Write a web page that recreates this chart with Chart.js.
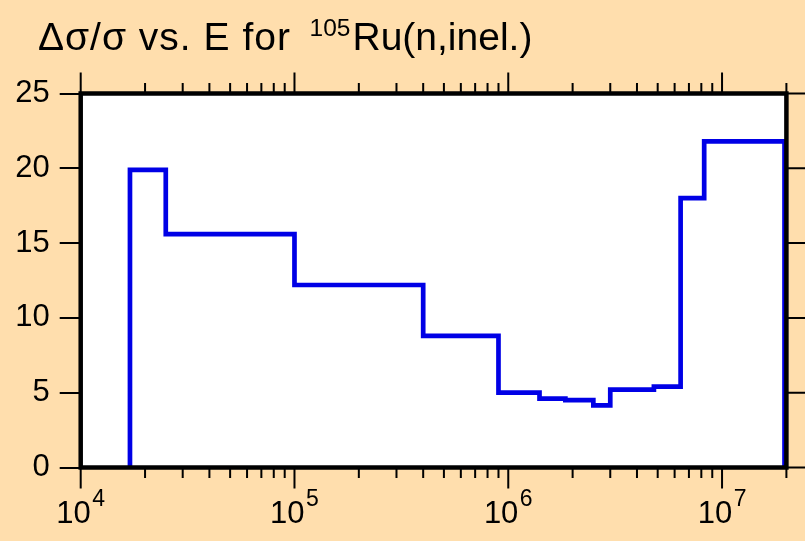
<!DOCTYPE html>
<html>
<head>
<meta charset="utf-8">
<script src="https://cdn.jsdelivr.net/npm/chart.js@4"></script>
<style>
  html, body { margin: 0; padding: 0; background: #ffdead; }
  canvas { display: block; }
</style>
</head>
<body>
<canvas id="c" width="805" height="541"></canvas>
<script>
// ---- data ----
const energyEdges = [1.7e4, 2.5e4, 1e5, 4e5, 9e5, 1.4e6, 1.85e6, 2.5e6, 3e6, 4.8e6, 6.4e6, 8.25e6, 1.96e7]; // eV
const relUncertainty = [19.9, 15.6, 12.2, 8.8, 5.0, 4.6, 4.5, 4.15, 5.2, 5.4, 18.0, 21.8]; // percent
const yTickValues = [0, 5, 10, 15, 20, 25];
const xDecades = [1e4, 1e5, 1e6, 1e7];
const xExponents = ['4', '5', '6', '7'];
const titleMain = 'Δσ/σ vs. E for';
const titleSup = '105';
const titleRest = 'Ru(n,inel.)';

const X_MIN = 1e4, X_MAX = 2e7, Y_MIN = 0, Y_MAX = 25;
const FONT = '"Liberation Sans", Arial, Helvetica, sans-serif';
const BG = '#ffdead';
const LINE = '#0000e6';

// build histogram outline points
const pts = [{x: energyEdges[0], y: 0}];
for (let i = 0; i < relUncertainty.length; i++) {
  pts.push({x: energyEdges[i], y: relUncertainty[i]});
  pts.push({x: energyEdges[i + 1], y: relUncertainty[i]});
}
pts.push({x: energyEdges[energyEdges.length - 1], y: 0});

const decor = {
  id: 'decor',
  beforeDraw(chart) {
    const {ctx, chartArea: a} = chart;
    ctx.save();
    ctx.fillStyle = BG;
    ctx.fillRect(0, 0, chart.width, chart.height);
    ctx.fillStyle = '#ffffff';
    ctx.fillRect(a.left, a.top, a.right - a.left, a.bottom - a.top);
    ctx.restore();
  },
  afterDatasetsDraw(chart) {
    const {ctx, chartArea: a} = chart;
    ctx.save();
    ctx.strokeStyle = '#000';
    ctx.lineWidth = 4.5;
    ctx.strokeRect(a.left, a.top, a.right - a.left, a.bottom - a.top);
    ctx.restore();
  },
  afterDraw(chart) {
    const {ctx, chartArea: a} = chart;
    const xs = chart.scales.x, ys = chart.scales.y;
    ctx.save();
    ctx.strokeStyle = '#000';
    ctx.lineWidth = 2;
    ctx.beginPath();
    xDecades.forEach(d => {
      for (let m = 1; m <= 9; m++) {
        const v = m * d;
        if (v < X_MIN || v > X_MAX) continue;
        const px = xs.getPixelForValue(v);
        const len = m === 1 ? 21 : 10.5;
        ctx.moveTo(px, a.bottom); ctx.lineTo(px, a.bottom + len);
        ctx.moveTo(px, a.top); ctx.lineTo(px, a.top - len);
      }
    });
    yTickValues.forEach(v => {
      const py = ys.getPixelForValue(v);
      ctx.moveTo(a.right, py); ctx.lineTo(a.right + 20, py);
    });
    ctx.stroke();

    // x labels 10^n
    ctx.fillStyle = '#000';
    ctx.textBaseline = 'alphabetic';
    ctx.textAlign = 'left';
    xDecades.forEach((d, i) => {
      const px = xs.getPixelForValue(d);
      ctx.font = '31px ' + FONT;
      const wb = ctx.measureText('10').width;
      ctx.font = '23px ' + FONT;
      const we = ctx.measureText(xExponents[i]).width;
      const x0 = px - (wb + 1.5 + we) / 2;
      ctx.font = '31px ' + FONT;
      ctx.fillText('10', x0, 522.5);
      ctx.font = '23px ' + FONT;
      ctx.fillText(xExponents[i], x0 + wb + 1.5, 506);
    });

    // title
    ctx.font = '39px ' + FONT;
    if ('letterSpacing' in ctx) ctx.letterSpacing = '1px';
    ctx.fillText(titleMain, 38, 49.5);
    if ('letterSpacing' in ctx) ctx.letterSpacing = '0px';
    ctx.font = '24.5px ' + FONT;
    ctx.fillText(titleSup, 309.5, 36);
    ctx.font = '39px ' + FONT;
    ctx.fillText(titleRest, 352.5, 49.5, 194);
    ctx.restore();
  }
};

new Chart(document.getElementById('c'), {
  type: 'line',
  data: {
    datasets: [{
      data: pts,
      borderColor: LINE,
      borderWidth: 4.7,
      pointRadius: 0,
      fill: false,
      tension: 0,
      borderJoinStyle: 'miter',
      clip: 6
    }]
  },
  options: {
    responsive: false,
    animation: false,
    devicePixelRatio: 1,
    layout: { padding: { top: 93.5, right: 18.6, left: 0, bottom: 0 } },
    plugins: { legend: { display: false }, title: { display: false }, tooltip: { enabled: false } },
    scales: {
      x: {
        type: 'logarithmic',
        position: 'bottom',
        min: X_MIN, max: X_MAX,
        ticks: { display: false },
        grid: { display: false },
        border: { display: false },
        afterFit(s) { s.height = 73.5; }
      },
      y: {
        type: 'linear',
        min: Y_MIN, max: Y_MAX,
        afterBuildTicks(s) { s.ticks = yTickValues.map(v => ({value: v})); },
        ticks: { color: '#000', font: { size: 31, family: FONT }, padding: 10 },
        grid: { drawOnChartArea: false, drawTicks: true, tickLength: 21, color: '#000', lineWidth: 2 },
        border: { display: false },
        afterFit(s) { s.width = 80.7; }
      }
    }
  },
  plugins: [decor]
});
</script>
</body>
</html>
